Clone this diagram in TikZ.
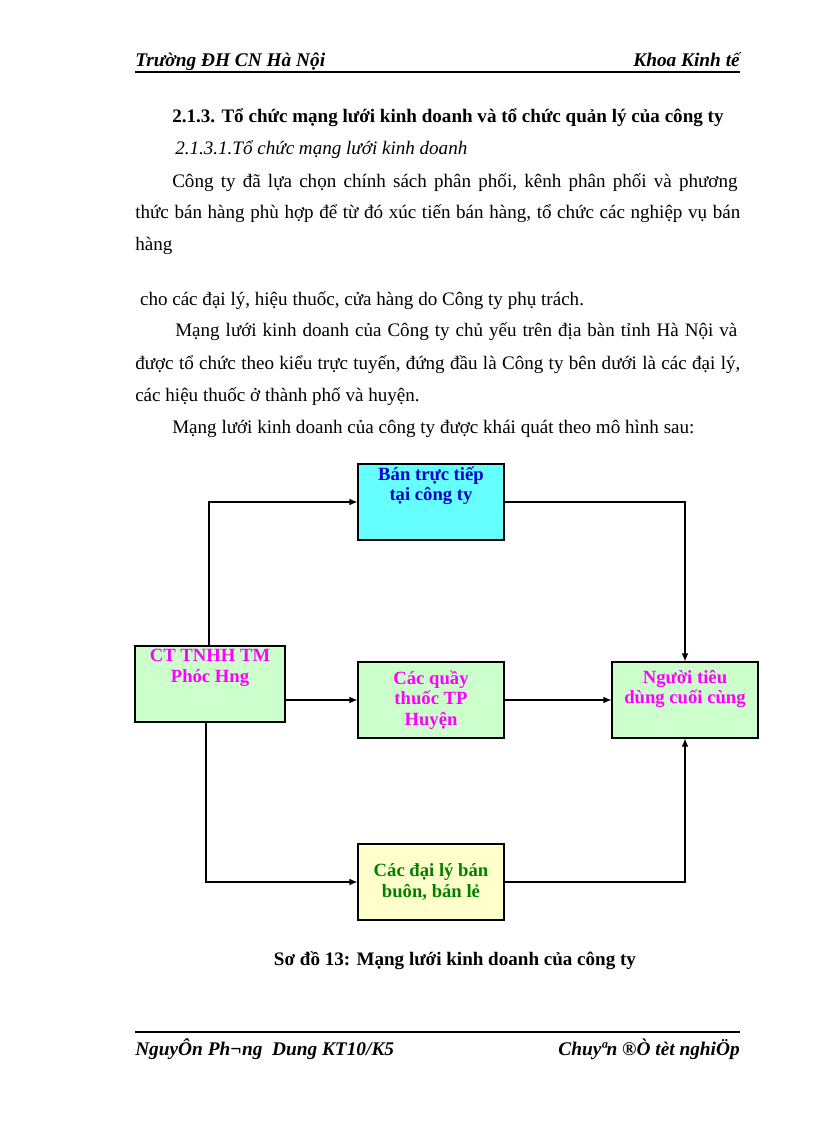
\documentclass[tikz,border=0pt]{standalone}
\usepackage{fontspec}
\setmainfont{Liberation Serif}
\usetikzlibrary{arrows.meta}
\begin{document}
\begin{tikzpicture}[x=0.75pt,y=-0.75pt,
  box/.style={draw=black,line width=0.8pt,minimum width=109.5pt,minimum height=57pt,inner sep=0pt,align=center,font=\fontsize{14}{15.5}\selectfont\bfseries},
  conn/.style={draw=black,line width=0.8pt,-{Latex[length=6pt,width=5pt]}},
  ln/.style={anchor=base west,inner sep=0pt,font=\fontsize{14.3}{16}\selectfont}]
\useasboundingbox (0,0) rectangle (816,1123);
\definecolor{cyanb}{HTML}{66FFFF}
\definecolor{greenb}{HTML}{CCFFCC}
\definecolor{yellowb}{HTML}{FFFFCC}
\definecolor{mag}{HTML}{FF00FF}
\definecolor{blu}{HTML}{0000CC}
\definecolor{grn}{HTML}{008000}
% header
\node[ln,font=\fontsize{14.5}{16}\selectfont\bfseries\itshape] (h1) at (135,67) {Trường ĐH CN Hà Nội};
\node[ln,anchor=base east,font=\fontsize{14.5}{16}\selectfont\bfseries\itshape] (h2) at (740,67) {Khoa Kinh tế};
\coordinate (hl1) at (135,72); \coordinate (hl2) at (740,72);
\draw[line width=1.2pt] (hl1) -- (hl2);
% body
\node[ln,font=\fontsize{14.3}{16}\selectfont\bfseries] (t1) at (172,123) {2.1.3. Tổ chức mạng lưới kinh doanh và tổ chức quản lý của công ty};
\node[ln,font=\fontsize{14.3}{16}\selectfont\itshape] (t2) at (175,155) {2.1.3.1.Tổ chức mạng lưới kinh doanh};
\node[ln] (p1) at (172,188) {\hbox to 424pt{Công\hfill ty\hfill đã\hfill lựa\hfill chọn\hfill chính\hfill sách\hfill phân\hfill phối,\hfill kênh\hfill phân\hfill phối\hfill và\hfill phương}};
\node[ln] (p2) at (135,219) {\hbox to 453.75pt{thức\hfill bán\hfill hàng\hfill phù\hfill hợp\hfill để\hfill từ\hfill đó\hfill xúc\hfill tiến\hfill bán\hfill hàng,\hfill tổ\hfill chức\hfill các\hfill nghiệp\hfill vụ\hfill bán}};
\node[ln] (p3) at (135,250) {hàng};
\node[ln] (p4) at (135,305) {\ cho các đại lý, hiệu thuốc, cửa hàng do Công ty phụ trách.};
\node[ln] (p5) at (175,336) {\hbox to 421.5pt{Mạng\hfill lưới\hfill kinh\hfill doanh\hfill của\hfill Công\hfill ty\hfill chủ\hfill yếu\hfill trên\hfill địa\hfill bàn\hfill tỉnh\hfill Hà\hfill Nội\hfill và}};
\node[ln] (p6) at (135,369) {\hbox to 453.75pt{được\hfill tổ\hfill chức\hfill theo\hfill kiểu\hfill trực\hfill tuyến,\hfill đứng\hfill đầu\hfill là\hfill Công\hfill ty\hfill bên\hfill dưới\hfill là\hfill các\hfill đại\hfill lý,}};
\node[ln] (p7) at (135,401) {các hiệu thuốc ở thành phố và huyện.};
\node[ln] (p8) at (172,433) {Mạng lưới kinh doanh của công ty được khái quát theo mô hình sau:};
% boxes
\node[box,fill=cyanb,text=blu] (a) at (431,502) {Bán trực tiếp\\tại công ty\\[12pt]};
\node[box,fill=greenb,text=mag,minimum width=112.5pt] (c) at (210,684) {CT TNHH TM\\Phóc Hng\\[12pt]};
\node[box,fill=greenb,text=mag] (q) at (431,700) {Các quầy\\thuốc TP\\Huyện};
\node[box,fill=greenb,text=mag] (n) at (685,700) {Người tiêu\\dùng cuối cùng\\[4pt]};
\node[box,fill=yellowb,text=grn] (d) at (431,882) {Các đại lý bán\\buôn, bán lẻ};
% connectors
\draw[conn] (c.north -| 209,0) |- (a.west);
\draw[conn] (a.east) -| (n.north);
\draw[conn] (c.east |- q.west) -- (q.west);
\draw[conn] (q.east) -- (n.west);
\draw[conn] (c.south -| 206,0) |- (d.west);
\draw[conn] (d.east) -| (n.south);
% caption
\node[ln,anchor=base,font=\fontsize{14.3}{16}\selectfont\bfseries] (cap) at (455,965) {Sơ đồ 13: Mạng lưới kinh doanh của công ty};
% footer
\coordinate (fl1) at (135,1032); \coordinate (fl2) at (740,1032);
\draw[line width=1.2pt] (fl1) -- (fl2);
\node[ln,font=\fontsize{14.5}{16}\selectfont\bfseries\itshape] (f1) at (135,1055) {NguyÔn Ph¬ng\ \ Dung KT10/K5};
\node[ln,anchor=base east,font=\fontsize{14.5}{16}\selectfont\bfseries\itshape] (f2) at (740,1055) {Chuyªn ®Ò tèt nghiÖp};
\end{tikzpicture}
\end{document}
